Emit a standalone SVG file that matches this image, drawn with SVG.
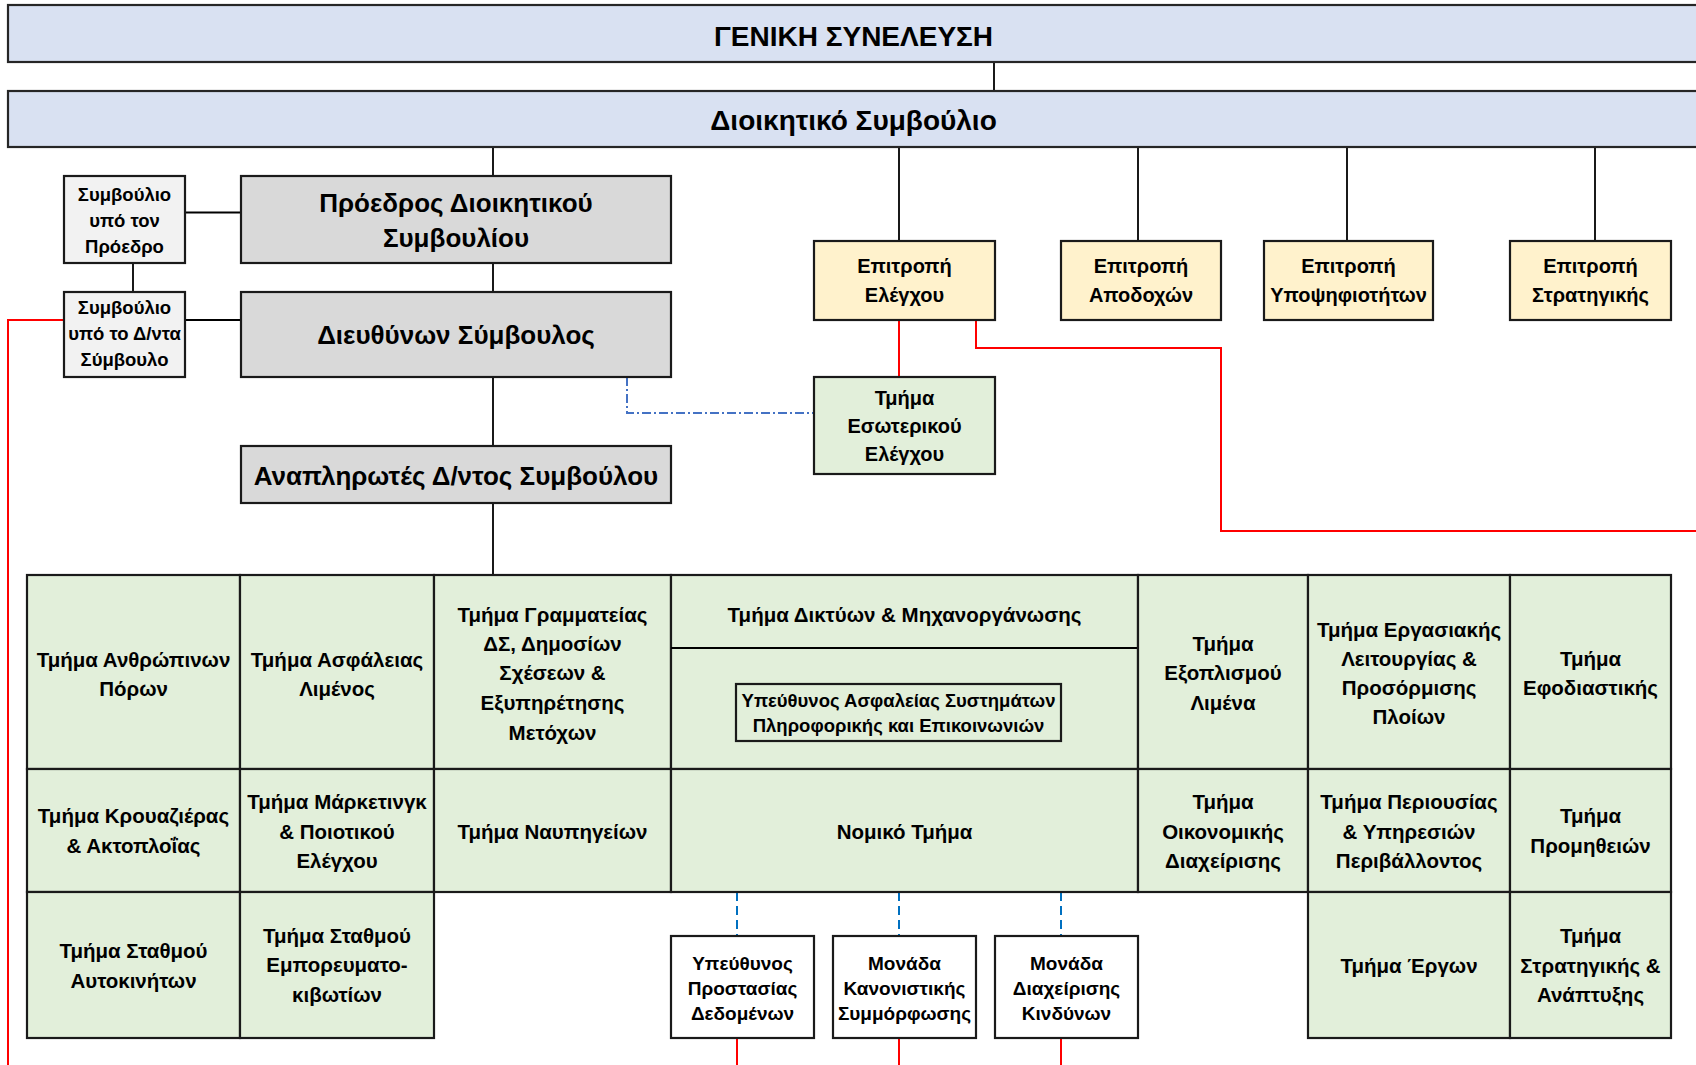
<svg xmlns="http://www.w3.org/2000/svg" width="1696" height="1065" viewBox="0 0 1696 1065">
<style>
text{font-family:"Liberation Sans",Arial,sans-serif;font-weight:bold;fill:#000;text-anchor:middle}
.blue{fill:#D9E1F2;stroke:#262626;stroke-width:2.2}
.grey{fill:#D9D9D9;stroke:#1a1a1a;stroke-width:2.2}
.lgrey{fill:#F2F2F2;stroke:#1a1a1a;stroke-width:2.2}
.yel{fill:#FFF2CC;stroke:#1a1a1a;stroke-width:2.2}
.grn{fill:#E2EFDA;stroke:#1a1a1a;stroke-width:2.2}
.wht{fill:#FFFFFF;stroke:#1a1a1a;stroke-width:2.2}
.t28{font-size:28px}
.t26{font-size:26px}
.t20{font-size:20px}
.t205{font-size:20.5px}
.t19{font-size:19px}
.t185{font-size:18.5px}
.ln{fill:none;stroke:#000;stroke-width:1.8}
.red{fill:none;stroke:#FF0000;stroke-width:2}
.bdash{fill:none;stroke:#0070C0;stroke-width:2;stroke-dasharray:9 5}
.bdd{fill:none;stroke:#4472C4;stroke-width:2;stroke-dasharray:9 3 2 3}
.kdash{fill:none;stroke:#000;stroke-width:1.8;stroke-dasharray:5 3 2 3}
</style>

<g id="connectors">
  <line class="ln" x1="994" y1="62" x2="994" y2="91"/>
  <line class="ln" x1="493" y1="147" x2="493" y2="176"/>
  <line class="ln" x1="899" y1="147" x2="899" y2="241"/>
  <line class="ln" x1="1138" y1="147" x2="1138" y2="241"/>
  <line class="ln" x1="1347" y1="147" x2="1347" y2="241"/>
  <line class="ln" x1="1595" y1="147" x2="1595" y2="241"/>
  <line class="ln" x1="493" y1="263" x2="493" y2="292"/>
  <line class="ln" x1="493" y1="377" x2="493" y2="446"/>
  <line class="ln" x1="493" y1="503" x2="493" y2="575"/>
  <line class="ln" x1="185" y1="212.5" x2="241" y2="212.5"/>
  <line class="ln" x1="185" y1="320" x2="241" y2="320"/>
  <line class="ln" x1="133" y1="263" x2="133" y2="292"/>
  <polyline class="red" points="64,320 8,320 8,1065"/>
  <line class="red" x1="899" y1="320" x2="899" y2="377"/>
  <polyline class="red" points="976,320 976,348 1221,348 1221,531 1700,531"/>
  <polyline class="bdd" points="627,377 627,413 814,413"/>
  <line class="kdash" x1="899" y1="648" x2="899" y2="684"/>
  <line class="bdash" x1="737" y1="892" x2="737" y2="936"/>
  <line class="bdash" x1="899" y1="892" x2="899" y2="936"/>
  <line class="bdash" x1="1061" y1="892" x2="1061" y2="936"/>
  <line class="red" x1="737" y1="1038" x2="737" y2="1065"/>
  <line class="red" x1="899" y1="1038" x2="899" y2="1065"/>
  <line class="red" x1="1061" y1="1038" x2="1061" y2="1065"/>
</g>

<g id="geniki-synelefsi">
  <rect class="blue" x="8" y="5" width="1700" height="57"/>
  <text class="t28" x="853.5" y="46">ΓΕΝΙΚΗ ΣΥΝΕΛΕΥΣΗ</text>
</g>
<g id="dioikitiko-symvoulio">
  <rect class="blue" x="8" y="91" width="1700" height="56"/>
  <text class="t28" x="853.5" y="130">Διοικητικό Συμβούλιο</text>
</g>

<g id="symv-proedrou">
  <rect class="lgrey" x="64" y="176" width="121" height="87"/>
  <text class="t185"><tspan x="124.5" y="200.7">Συμβούλιο</tspan><tspan x="124.5" y="226.7">υπό τον</tspan><tspan x="124.5" y="253.3">Πρόεδρο</tspan></text>
</g>
<g id="symv-dnta">
  <rect class="lgrey" x="64" y="292" width="121" height="85"/>
  <text class="t185"><tspan x="124.5" y="314">Συμβούλιο</tspan><tspan x="124.5" y="340">υπό το Δ/ντα</tspan><tspan x="124.5" y="366">Σύμβουλο</tspan></text>
</g>
<g id="proedros">
  <rect class="grey" x="241" y="176" width="430" height="87"/>
  <text class="t26"><tspan x="456" y="211.7">Πρόεδρος Διοικητικού</tspan><tspan x="456" y="247.3">Συμβουλίου</tspan></text>
</g>
<g id="dieythynon">
  <rect class="grey" x="241" y="292" width="430" height="85"/>
  <text class="t26" x="456" y="344.3">Διευθύνων Σύμβουλος</text>
</g>
<g id="anaplirotes">
  <rect class="grey" x="241" y="446" width="430" height="57"/>
  <text class="t26" x="456" y="485">Αναπληρωτές Δ/ντος Συμβούλου</text>
</g>

<g id="ep-elegxou">
  <rect class="yel" x="814" y="241" width="181" height="79"/>
  <text class="t20"><tspan x="904.5" y="273.3">Επιτροπή</tspan><tspan x="904.5" y="301.7">Ελέγχου</tspan></text>
</g>
<g id="ep-apodoxon">
  <rect class="yel" x="1061" y="241" width="160" height="79"/>
  <text class="t20"><tspan x="1141" y="273.3">Επιτροπή</tspan><tspan x="1141" y="301.7">Αποδοχών</tspan></text>
</g>
<g id="ep-ypopsifiotiton">
  <rect class="yel" x="1264" y="241" width="169" height="79"/>
  <text class="t20"><tspan x="1348.5" y="273.3">Επιτροπή</tspan><tspan x="1348.5" y="301.7">Υποψηφιοτήτων</tspan></text>
</g>
<g id="ep-stratigikis">
  <rect class="yel" x="1510" y="241" width="161" height="79"/>
  <text class="t20"><tspan x="1590.5" y="273.3">Επιτροπή</tspan><tspan x="1590.5" y="301.7">Στρατηγικής</tspan></text>
</g>
<g id="esoterikos-elegxos">
  <rect class="grn" x="814" y="377" width="181" height="97"/>
  <text class="t20"><tspan x="904.5" y="405">Τμήμα</tspan><tspan x="904.5" y="433.3">Εσωτερικού</tspan><tspan x="904.5" y="461">Ελέγχου</tspan></text>
</g>

<g id="anthropinoi-poroi">
  <rect class="grn" x="27" y="575" width="213" height="194"/>
  <text class="t205"><tspan x="133.5" y="666.7">Τμήμα Ανθρώπινων</tspan><tspan x="133.5" y="696">Πόρων</tspan></text>
</g>
<g id="asfaleia-limenos">
  <rect class="grn" x="240" y="575" width="194" height="194"/>
  <text class="t205"><tspan x="337" y="666.7">Τμήμα Ασφάλειας</tspan><tspan x="337" y="696">Λιμένος</tspan></text>
</g>
<g id="grammateia">
  <rect class="grn" x="434" y="575" width="237" height="194"/>
  <text class="t205"><tspan x="552.5" y="621.7">Τμήμα Γραμματείας</tspan><tspan x="552.5" y="650.7">ΔΣ, Δημοσίων</tspan><tspan x="552.5" y="680">Σχέσεων &amp;</tspan><tspan x="552.5" y="710.3">Εξυπηρέτησης</tspan><tspan x="552.5" y="740">Μετόχων</tspan></text>
</g>
<g id="diktya">
  <rect class="grn" x="671" y="575" width="467" height="194"/>
  <line class="ln" x1="671" y1="648" x2="1138" y2="648"/>
  <text class="t205" x="904.5" y="621.7">Τμήμα Δικτύων &amp; Μηχανοργάνωσης</text>
</g>
<g id="ypeythynos-asfaleias">
  <rect class="grn" x="736" y="684" width="325" height="57"/>
  <text class="t185"><tspan x="898.5" y="706.7">Υπεύθυνος Ασφαλείας Συστημάτων</tspan><tspan x="898.5" y="731.7">Πληροφορικής και Επικοινωνιών</tspan></text>
</g>
<g id="exoplismos">
  <rect class="grn" x="1138" y="575" width="170" height="194"/>
  <text class="t205"><tspan x="1223" y="650.7">Τμήμα</tspan><tspan x="1223" y="680">Εξοπλισμού</tspan><tspan x="1223" y="710">Λιμένα</tspan></text>
</g>
<g id="ergasiaki-leitourgia">
  <rect class="grn" x="1308" y="575" width="202" height="194"/>
  <text class="t205"><tspan x="1409" y="637.3">Τμήμα Εργασιακής</tspan><tspan x="1409" y="666">Λειτουργίας &amp;</tspan><tspan x="1409" y="695">Προσόρμισης</tspan><tspan x="1409" y="724">Πλοίων</tspan></text>
</g>
<g id="efodiastiki">
  <rect class="grn" x="1510" y="575" width="161" height="194"/>
  <text class="t205"><tspan x="1590.5" y="666">Τμήμα</tspan><tspan x="1590.5" y="695">Εφοδιαστικής</tspan></text>
</g>

<g id="krouaziera">
  <rect class="grn" x="27" y="769" width="213" height="123"/>
  <text class="t205"><tspan x="133.5" y="823.3">Τμήμα Κρουαζιέρας</tspan><tspan x="133.5" y="853.3">&amp; Ακτοπλοΐας</tspan></text>
</g>
<g id="marketing">
  <rect class="grn" x="240" y="769" width="194" height="123"/>
  <text class="t205"><tspan x="337" y="809.3">Τμήμα Μάρκετινγκ</tspan><tspan x="337" y="839.3">&amp; Ποιοτικού</tspan><tspan x="337" y="868.3">Ελέγχου</tspan></text>
</g>
<g id="nafpigeia">
  <rect class="grn" x="434" y="769" width="237" height="123"/>
  <text class="t205" x="552.5" y="839.3">Τμήμα Ναυπηγείων</text>
</g>
<g id="nomiko">
  <rect class="grn" x="671" y="769" width="467" height="123"/>
  <text class="t205" x="904.5" y="839.3">Νομικό Τμήμα</text>
</g>
<g id="oikonomiki">
  <rect class="grn" x="1138" y="769" width="170" height="123"/>
  <text class="t205"><tspan x="1223" y="809.3">Τμήμα</tspan><tspan x="1223" y="839.3">Οικονομικής</tspan><tspan x="1223" y="868.3">Διαχείρισης</tspan></text>
</g>
<g id="periousia">
  <rect class="grn" x="1308" y="769" width="202" height="123"/>
  <text class="t205"><tspan x="1409" y="809.3">Τμήμα Περιουσίας</tspan><tspan x="1409" y="839.3">&amp; Υπηρεσιών</tspan><tspan x="1409" y="868.3">Περιβάλλοντος</tspan></text>
</g>
<g id="promitheies">
  <rect class="grn" x="1510" y="769" width="161" height="123"/>
  <text class="t205"><tspan x="1590.5" y="823.3">Τμήμα</tspan><tspan x="1590.5" y="853.3">Προμηθειών</tspan></text>
</g>

<g id="stathmos-aytokiniton">
  <rect class="grn" x="27" y="892" width="213" height="146"/>
  <text class="t205"><tspan x="133.5" y="958.3">Τμήμα Σταθμού</tspan><tspan x="133.5" y="987.7">Αυτοκινήτων</tspan></text>
</g>
<g id="stathmos-emporeymatokivotion">
  <rect class="grn" x="240" y="892" width="194" height="146"/>
  <text class="t205"><tspan x="337" y="942.7">Τμήμα Σταθμού</tspan><tspan x="337" y="972.3">Εμπορευματο-</tspan><tspan x="337" y="1001.7">κιβωτίων</tspan></text>
</g>
<g id="erga">
  <rect class="grn" x="1308" y="892" width="202" height="146"/>
  <text class="t205" x="1409" y="973.3">Τμήμα Έργων</text>
</g>
<g id="stratigiki-anaptyxi">
  <rect class="grn" x="1510" y="892" width="161" height="146"/>
  <text class="t205"><tspan x="1590.5" y="943.3">Τμήμα</tspan><tspan x="1590.5" y="972.7">Στρατηγικής &amp;</tspan><tspan x="1590.5" y="1001.7">Ανάπτυξης</tspan></text>
</g>

<g id="prostasia-dedomenon">
  <rect class="wht" x="671" y="936" width="143" height="102"/>
  <text class="t19"><tspan x="742.5" y="970">Υπεύθυνος</tspan><tspan x="742.5" y="995">Προστασίας</tspan><tspan x="742.5" y="1020">Δεδομένων</tspan></text>
</g>
<g id="kanonistiki-symmorfosi">
  <rect class="wht" x="833" y="936" width="143" height="102"/>
  <text class="t19"><tspan x="904.5" y="970">Μονάδα</tspan><tspan x="904.5" y="995">Κανονιστικής</tspan><tspan x="904.5" y="1020">Συμμόρφωσης</tspan></text>
</g>
<g id="diaxeirisi-kindynon">
  <rect class="wht" x="995" y="936" width="143" height="102"/>
  <text class="t19"><tspan x="1066.5" y="970">Μονάδα</tspan><tspan x="1066.5" y="995">Διαχείρισης</tspan><tspan x="1066.5" y="1020">Κινδύνων</tspan></text>
</g>
</svg>
